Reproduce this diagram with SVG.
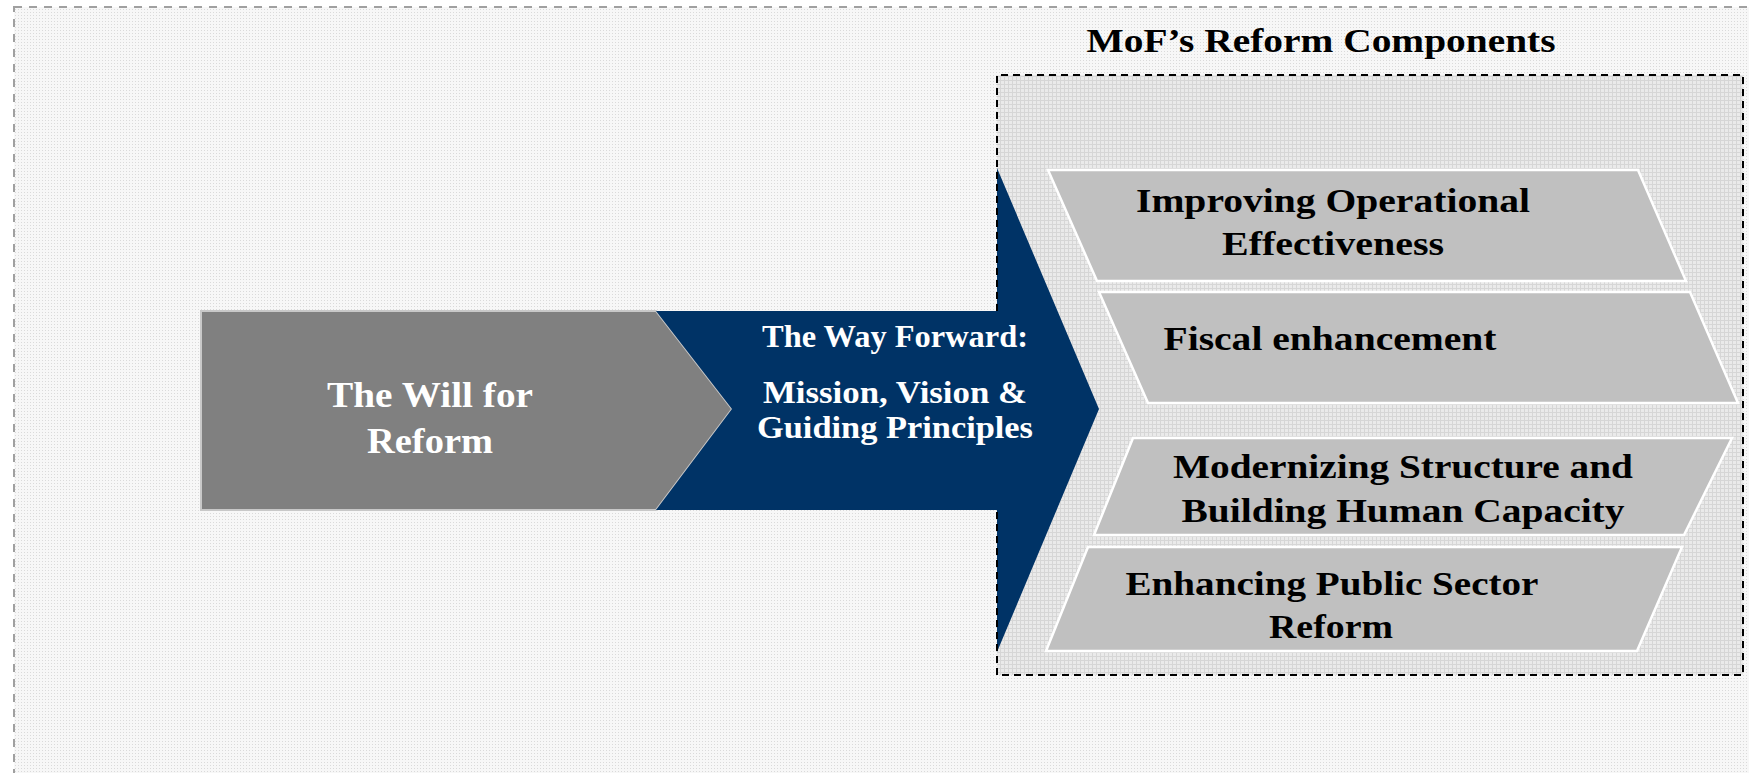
<svg xmlns="http://www.w3.org/2000/svg" width="1749" height="773" viewBox="0 0 1749 773">
<defs>
<pattern id="dots" width="3" height="3" patternUnits="userSpaceOnUse">
<rect width="3" height="3" fill="#f7f7f7"/>
<rect width="1" height="1" fill="#dadada"/>
</pattern>
<pattern id="grid" width="4" height="4" patternUnits="userSpaceOnUse">
<rect width="4" height="4" fill="#eaeaea"/>
<rect width="4" height="1" fill="#d6d6d6"/>
<rect width="1" height="4" fill="#d6d6d6"/>
</pattern>
</defs>
<style>
.t{font-family:"Liberation Serif","Times New Roman",serif;font-weight:bold;}
.dk{fill:#000;font-size:34px;}
.wh{fill:#fff;}
.para{fill:#c0c0c0;stroke:#ffffff;stroke-width:2.5;}
</style>
<rect x="0" y="0" width="1749" height="773" fill="#ffffff"/>
<rect x="14" y="7" width="1750" height="780" fill="url(#dots)" stroke="#a0a0a0" stroke-width="2" stroke-dasharray="8,7"/>

<g id="components-box">
<rect x="997" y="75" width="746" height="600" fill="url(#grid)"/>
</g>

<g id="will-for-reform">
<polygon points="201,311 656,311 732,409 656,510 201,510" fill="#808080" stroke="#c8c8c8" stroke-width="2"/>
<text class="t wh" font-size="36" x="430" y="407" text-anchor="middle" textLength="206" lengthAdjust="spacingAndGlyphs">The Will for</text>
<text class="t wh" font-size="36" x="430" y="453" text-anchor="middle" textLength="126" lengthAdjust="spacingAndGlyphs">Reform</text>
</g>

<g id="way-forward">
<polygon points="656,311 997,311 997,168 1099,409 997,652 997,510 656,510 732,409" fill="#003366"/>
<text class="t wh" font-size="32" x="895" y="347" text-anchor="middle" textLength="266" lengthAdjust="spacingAndGlyphs">The Way Forward:</text>
<text class="t wh" font-size="32" x="895" y="403" text-anchor="middle" textLength="264" lengthAdjust="spacingAndGlyphs">Mission, Vision &amp;</text>
<text class="t wh" font-size="32" x="895" y="438" text-anchor="middle" textLength="276" lengthAdjust="spacingAndGlyphs">Guiding Principles</text>
</g>

<g id="components-border">
<path d="M997,311 V75 H1743 V675 H997 V510" fill="none" stroke="#000" stroke-width="2" stroke-dasharray="7,5"/>
<text class="t dk" x="1321" y="52" text-anchor="middle" textLength="469" lengthAdjust="spacingAndGlyphs">MoF’s Reform Components</text>
</g>

<g id="operational">
<polygon class="para" points="1048,170 1638,170 1686,281 1097,281"/>
<text class="t dk" x="1333" y="212" text-anchor="middle" textLength="394" lengthAdjust="spacingAndGlyphs">Improving Operational</text>
<text class="t dk" x="1333" y="255" text-anchor="middle" textLength="222" lengthAdjust="spacingAndGlyphs">Effectiveness</text>
</g>

<g id="fiscal">
<polygon class="para" points="1099,292 1690,292 1738,403 1148,403"/>
<text class="t dk" x="1330" y="350" text-anchor="middle" textLength="333" lengthAdjust="spacingAndGlyphs">Fiscal enhancement</text>
</g>

<g id="modernizing">
<polygon class="para" points="1133,438 1732,438 1684,535 1094,535"/>
<text class="t dk" x="1403" y="478" text-anchor="middle" textLength="460" lengthAdjust="spacingAndGlyphs">Modernizing Structure and</text>
<text class="t dk" x="1403" y="522" text-anchor="middle" textLength="443" lengthAdjust="spacingAndGlyphs">Building Human Capacity</text>
</g>

<g id="public-sector">
<polygon class="para" points="1088,547 1682,547 1637,651 1046,651"/>
<text class="t dk" x="1332" y="595" text-anchor="middle" textLength="413" lengthAdjust="spacingAndGlyphs">Enhancing Public Sector</text>
<text class="t dk" x="1331" y="638" text-anchor="middle" textLength="124" lengthAdjust="spacingAndGlyphs">Reform</text>
</g>

<g id="connectors"></g>
</svg>
